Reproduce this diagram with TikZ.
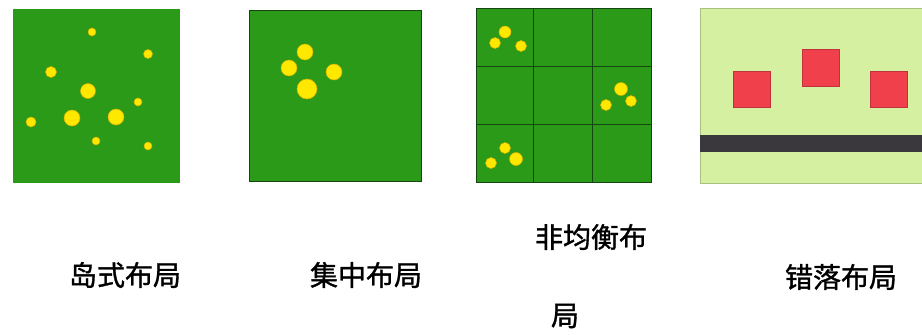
\documentclass[tikz,border=0pt]{standalone}
\usepackage{fontspec}
\newfontfamily\cjk{Noto Sans CJK SC}[FakeBold=1.2]
\definecolor{grass}{RGB}{42,154,24}
\definecolor{dotyel}{RGB}{255,232,0}
\definecolor{dotedge}{RGB}{214,176,0}
\definecolor{paleg}{RGB}{212,240,160}
\definecolor{redsq}{RGB}{240,64,76}
\definecolor{roadc}{RGB}{58,56,60}
\definecolor{gridl}{RGB}{20,70,15}
\tikzset{
  dot/.style={fill=dotyel,draw=dotedge,line width=0.5pt},
  lbl/.style={font=\cjk\fontsize{28}{30}\selectfont,text=black,inner sep=0pt},
  building/.style={fill=redsq,draw=redsq!80!black,line width=0.4pt}
}
\begin{document}
\begin{tikzpicture}[x=1pt,y=-1pt]
\useasboundingbox (0,0) rectangle (922,335);
\fill[white] (0,0) rectangle (922,335);
% panel 1: island layout
\fill[grass] (13,9) rectangle (180,183);
\foreach \x/\y/\r in {92/32/4,148/54/4.5,51/72/5.5,88/91/7.5,138/102/4,31/122/5,72/118/8,116/117/8,96/141/4,148/146/4}
  \fill[dot] (\x,\y) circle[radius=\r pt];
% panel 2: concentrated layout
\filldraw[fill=grass,draw=gridl,line width=1pt] (249,10) rectangle (421,181);
\foreach \x/\y/\r in {305/52/8,289/68/8,334/72/8,307/89/10}
  \fill[dot] (\x,\y) circle[radius=\r pt];
% panel 3: unbalanced layout
\filldraw[fill=grass,draw=gridl,line width=1pt] (476,8) rectangle (651,182);
\draw[gridl,line width=1pt] (533,8) -- (533,182) (592,8) -- (592,182)
  (476,66) -- (651,66) (476,124) -- (651,124);
\foreach \x/\y/\r in {505/32/6,495/43/5.5,521/46/5.5,621/89/6.5,631/101/5.5,606/105/5.5,505/148/5.5,516/159/6.5,491/163/5.5}
  \fill[dot] (\x,\y) circle[radius=\r pt];
% panel 4: staggered layout
\filldraw[fill=paleg,draw=paleg!80!black,line width=0.5pt] (700,8) rectangle (925,183);
\fill[building] (733,71) rectangle (770,107);
\fill[building] (802,49) rectangle (839,86);
\fill[building] (870,71) rectangle (907,107);
\fill[roadc] (700,135) rectangle (922,152);
% labels
\node[lbl] (l1) at (125,275) {岛式布局};
\node[lbl] (l2) at (366,275) {集中布局};
\node[lbl] (l3a) at (591,237) {非均衡布};
\node[lbl] (l3b) at (565,316) {局};
\node[lbl] (l4) at (841,277) {错落布局};
\end{tikzpicture}
\end{document}
